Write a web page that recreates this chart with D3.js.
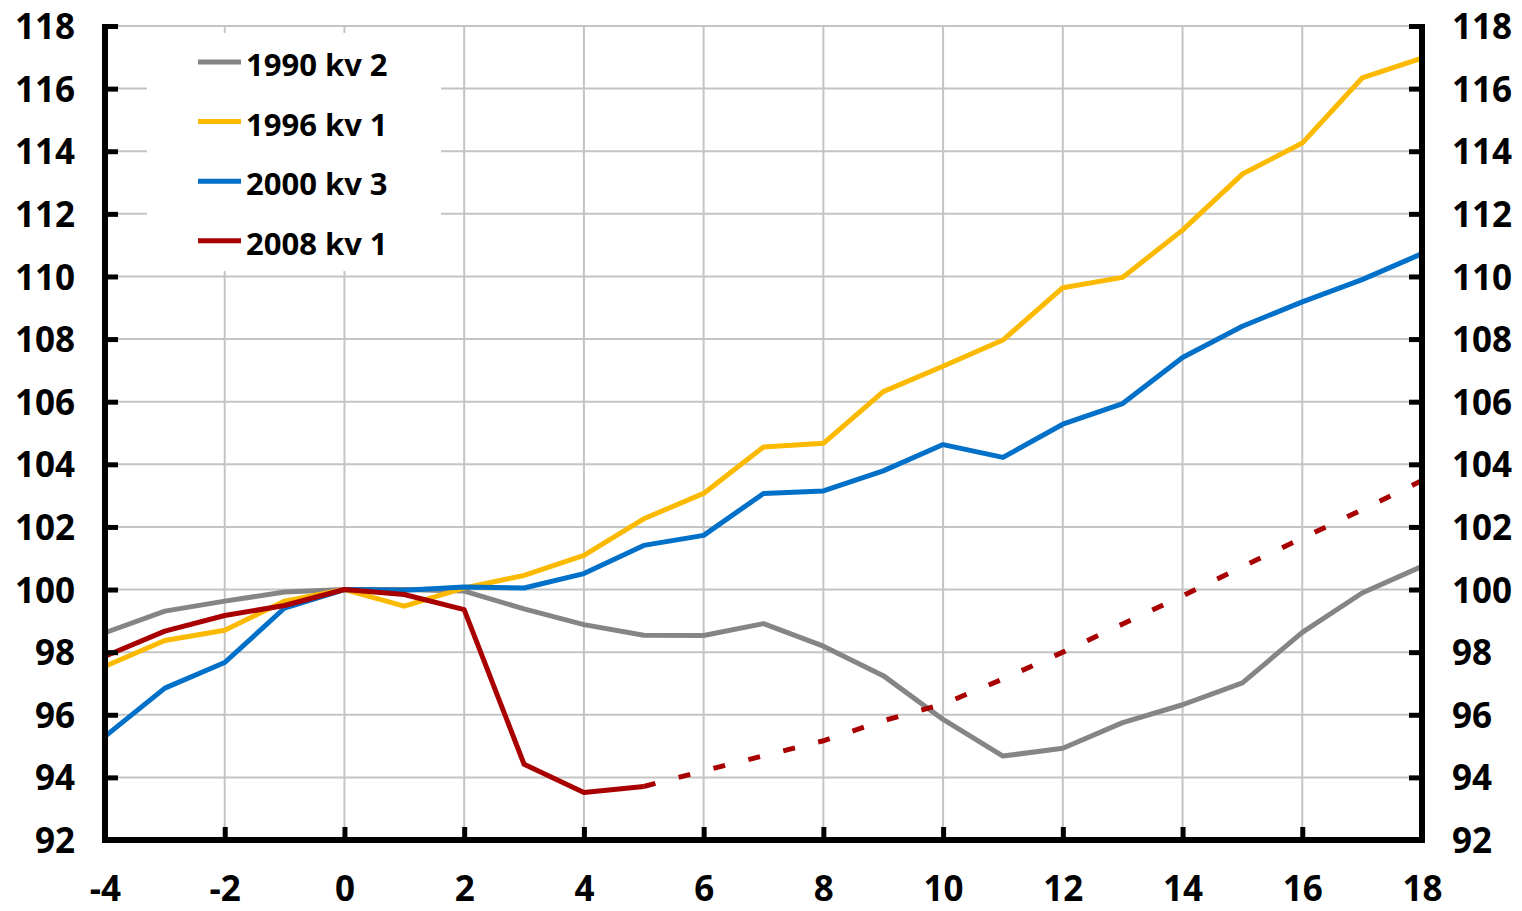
<!DOCTYPE html>
<html><head><meta charset="utf-8">
<script src="https://cdn.jsdelivr.net/npm/d3@7"></script>
<style>html,body{margin:0;padding:0;background:#fff;}svg{display:block;}</style>
</head><body>
<svg id="chart" width="1522" height="911"></svg>
<script>
const quarters = [-4,-3,-2,-1,0,1,2,3,4,5,6,7,8,9,10,11,12,13,14,15,16,17,18];
const s1990 = [98.62,99.31,99.63,99.92,100,100.0,99.95,99.38,98.88,98.54,98.53,98.91,98.19,97.25,95.85,94.68,94.93,95.75,96.32,97.02,98.63,99.89,100.74];
const s1996 = [97.55,98.37,98.70,99.63,100,99.47,100.05,100.45,101.09,102.26,103.07,104.55,104.67,106.32,107.13,107.97,109.64,109.97,111.48,113.27,114.26,116.34,116.97];
const s2000 = [95.31,96.85,97.67,99.41,100,99.98,100.08,100.05,100.51,101.41,101.73,103.07,103.15,103.79,104.63,104.22,105.28,105.94,107.41,108.41,109.19,109.90,110.73];
const s2008 = [97.87,98.67,99.17,99.49,100,99.84,99.36,94.42,93.52,93.71];
const s2008fQuarters = [5,6,7,8,9,10,11,12,13,14,15,16,17,18];
const s2008f = [93.71,94.21,94.69,95.17,95.81,96.34,97.14,98.0,98.9,99.8,100.73,101.64,102.55,103.48];
const legendLabels = ["1990 kv 2","1996 kv 1","2000 kv 3","2008 kv 1"];
const colors = ["#858585","#FBBA00","#0070C8","#A80000"];
const xTicks = [-4,-2,0,2,4,6,8,10,12,14,16,18];
const yTicks = [92,94,96,98,100,102,104,106,108,110,112,114,116,118];

const svg = d3.select("#chart");
const L = 105, R = 1422, T = 26, B = 840;
const x = d3.scaleLinear().domain([-4,18]).range([L,R]);
const y = d3.scaleLinear().domain([92,118]).range([B,T]);
const font = "'Open Sans', 'Noto Sans', sans-serif";
const fmt = d => String(d);

// grid
svg.append("g").selectAll("line").data(yTicks.filter(d=>d>92)).join("line")
  .attr("x1",L).attr("x2",R).attr("y1",d=>y(d)).attr("y2",d=>y(d))
  .attr("stroke","#c4c4c4").attr("stroke-width",2);
svg.append("g").selectAll("line").data(xTicks.filter(d=>d>-4&&d<18)).join("line")
  .attr("y1",T).attr("y2",B).attr("x1",d=>x(d)).attr("x2",d=>x(d))
  .attr("stroke","#c4c4c4").attr("stroke-width",2);

// legend background
svg.append("rect").attr("x",147).attr("y",33).attr("width",294).attr("height",238).attr("fill","#fff");

// lines
const line = d3.line().x(d=>x(d[0])).y(d=>y(d[1]));
const series = [s1990,s1996,s2000];
series.forEach((s,i)=>{
  svg.append("path").datum(quarters.map((q,j)=>[q,s[j]]))
    .attr("d",line).attr("fill","none").attr("stroke",colors[i]).attr("stroke-width",5)
    .attr("stroke-linejoin","round");
});
svg.append("path").datum(s2008fQuarters.map((q,j)=>[q,s2008f[j]]))
  .attr("d",line).attr("fill","none").attr("stroke",colors[3]).attr("stroke-width",5)
  .attr("stroke-dasharray","12,24");
svg.append("path").datum(s2008.map((v,j)=>[quarters[j],v]))
  .attr("d",line).attr("fill","none").attr("stroke",colors[3]).attr("stroke-width",5)
  .attr("stroke-linejoin","round");

// axes
const axisStyle = g => {
  g.select(".domain").remove();
  g.selectAll(".tick line").attr("stroke","#000").attr("stroke-width",5);
  g.selectAll(".tick text").attr("fill","#000").attr("font-family",font)
    .attr("font-weight","bold").attr("font-size","35px");
};
svg.append("g").attr("transform",`translate(${L},0)`)
  .call(d3.axisRight(y).tickValues(yTicks).tickSize(13).tickFormat(fmt))
  .call(axisStyle)
  .call(g=>g.selectAll(".tick text").attr("x",-30).attr("text-anchor","end").attr("dy","0.36em"));
svg.append("g").attr("transform",`translate(${R},0)`)
  .call(d3.axisLeft(y).tickValues(yTicks).tickSize(13).tickFormat(fmt))
  .call(axisStyle)
  .call(g=>g.selectAll(".tick text").attr("x",30).attr("text-anchor","start").attr("dy","0.36em"));
svg.append("g").attr("transform",`translate(0,${B})`)
  .call(d3.axisTop(x).tickValues(xTicks).tickSize(13).tickFormat(fmt))
  .call(axisStyle)
  .call(g=>g.selectAll(".tick text").attr("y",61).attr("dy","0"));

svg.append("line").attr("x1",L).attr("x2",L).attr("y1",T-2).attr("y2",B+2.5).attr("stroke","#000").attr("stroke-width",6);
svg.append("line").attr("x1",R).attr("x2",R).attr("y1",T-2).attr("y2",B+2.5).attr("stroke","#000").attr("stroke-width",6);
svg.append("line").attr("x1",L-3).attr("x2",R+3).attr("y1",B).attr("y2",B).attr("stroke","#000").attr("stroke-width",6);

// legend
const lg = svg.append("g");
legendLabels.forEach((lab,i)=>{
  const ly = 62 + i*59.6;
  lg.append("line").attr("x1",198).attr("x2",241).attr("y1",ly).attr("y2",ly)
    .attr("stroke",colors[i]).attr("stroke-width",5);
  lg.append("text").attr("x",246).attr("y",ly+14).text(lab)
    .attr("font-family",font).attr("font-weight","bold").attr("font-size","31px").attr("fill","#000");
});
</script>
</body></html>
